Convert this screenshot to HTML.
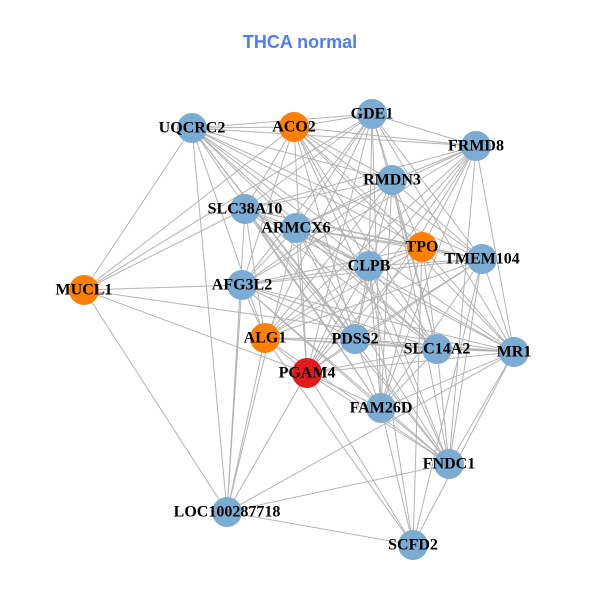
<!DOCTYPE html>
<html><head><meta charset="utf-8"><style>
body{margin:0;background:#fff;}
svg{display:block}
text.l{font-family:"Liberation Serif",serif;font-weight:bold;font-size:16px;fill:#000;text-anchor:middle;dominant-baseline:central}
</style></head><body>
<svg id="s" width="600" height="600" viewBox="0 0 600 600">
<text x="300" y="48" text-anchor="middle" font-family="Liberation Sans, sans-serif" font-weight="bold" font-size="18" fill="#4f7cf0">THCA normal</text>
<g id="e" stroke="#b3b3b3" stroke-width="1"></g>
<g id="n"></g>
</svg>
<script>
var N={UQCRC2:[192,128,'b'],ACO2:[294,127,'o'],GDE1:[372,114,'b'],FRMD8:[476,146,'b'],RMDN3:[392,180,'b'],SLC38A10:[245,209,'b'],ARMCX6:[296,228,'b'],TPO:[422,247,'o'],TMEM104:[482,259,'b'],CLPB:[369,266,'b'],MUCL1:[84,290,'o'],AFG3L2:[242,285,'b'],ALG1:[265,338,'o'],PDSS2:[355,339,'b'],SLC14A2:[437,349,'b'],MR1:[514,352,'b'],PGAM4:[307,373,'r'],FAM26D:[381,408,'b'],FNDC1:[449,464,'b'],LOC100287718:[227,512,'b'],SCFD2:[413,545,'b']};
var core=['UQCRC2','ACO2','GDE1','FRMD8','RMDN3','SLC38A10','ARMCX6','TPO','TMEM104','CLPB','AFG3L2','ALG1','PDSS2','SLC14A2','MR1','PGAM4','FAM26D','FNDC1'];
var E=[];
for(var i=0;i<core.length;i++)for(var j=i+1;j<core.length;j++){if((i*7+j*3)%5!=0)E.push([core[i],core[j]]);}
E=E.concat([['MUCL1','UQCRC2'],['MUCL1','ACO2'],['MUCL1','AFG3L2'],['MUCL1','PGAM4'],['MUCL1','LOC100287718'],['MUCL1','SLC38A10'],['MUCL1','MR1'],['MUCL1','GDE1'],
['LOC100287718','AFG3L2'],['LOC100287718','ALG1'],['LOC100287718','SLC38A10'],['LOC100287718','PGAM4'],['LOC100287718','FNDC1'],['LOC100287718','SCFD2'],['LOC100287718','MR1'],['LOC100287718','ARMCX6'],['LOC100287718','UQCRC2'],
['SCFD2','PGAM4'],['SCFD2','ALG1'],['SCFD2','CLPB'],['SCFD2','TMEM104'],['SCFD2','MR1'],['SCFD2','FAM26D'],['SCFD2','TPO']]);
var ns='http://www.w3.org/2000/svg',eg=document.getElementById('e'),ng=document.getElementById('n');
E.forEach(function(p){var a=N[p[0]],b=N[p[1]],l=document.createElementNS(ns,'line');l.setAttribute('x1',a[0]);l.setAttribute('y1',a[1]);l.setAttribute('x2',b[0]);l.setAttribute('y2',b[1]);eg.appendChild(l);});
var C={b:'#7bacd3',o:'#ff8000',r:'#e3191c'};
for(var k in N){var c=document.createElementNS(ns,'circle');c.setAttribute('cx',N[k][0]);c.setAttribute('cy',N[k][1]);c.setAttribute('r',15);c.setAttribute('fill',C[N[k][2]]);ng.appendChild(c);}
for(var k in N){var t=document.createElementNS(ns,'text');t.setAttribute('class','l');t.setAttribute('x',N[k][0]);t.setAttribute('y',N[k][1]);t.textContent=k;ng.appendChild(t);}
</script>
</body></html>
